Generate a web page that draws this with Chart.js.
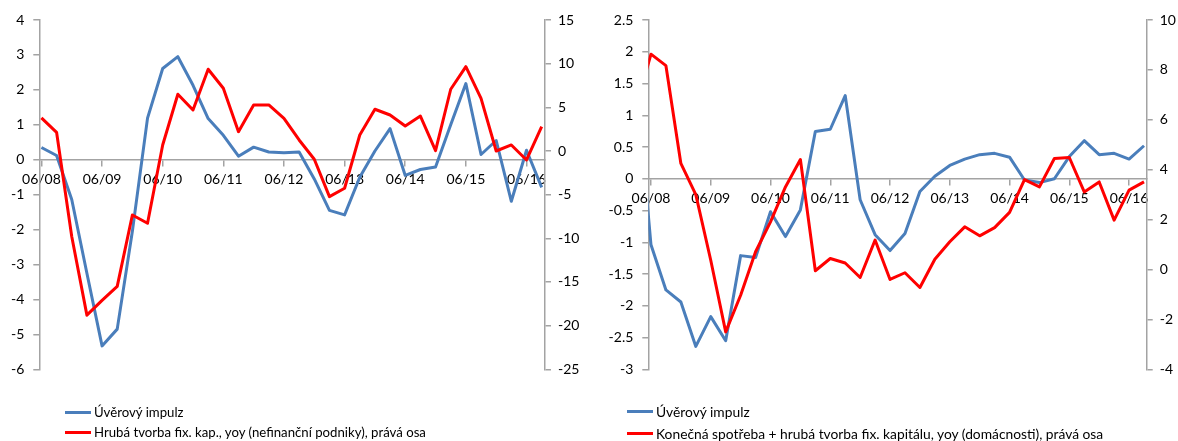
<!DOCTYPE html>
<html lang="cs">
<head>
<meta charset="utf-8">
<title>Úvěrový impulz</title>
<script src="https://cdn.jsdelivr.net/npm/chart.js@4/dist/chart.umd.min.js"></script>
<style>
  html, body { margin: 0; padding: 0; background: #fff; }
  body { width: 1178px; height: 441px; position: relative; overflow: hidden; font-family: Lato, "Open Sans", sans-serif; }
  .panel { position: absolute; top: 0; width: 589px; height: 441px; }
  .panel canvas { position: absolute; left: 0; top: 0; }
  .key { position: absolute; height: 20px; display: flex; align-items: center; white-space: nowrap; font-size: 13.2px; color: #000; }
  .key.wide { font-size: 13.8px; }
  .key i { display: inline-block; width: 26px; height: 3px; margin-right: 3px; }
</style>
</head>
<body>
<div class="panel" style="left:0"><canvas id="firms" width="589" height="441"></canvas></div>
<div class="panel" style="left:589px"><canvas id="households" width="589" height="441"></canvas></div>

<div class="key" style="left:65px; top:402px"><i style="background:#4a7ebb"></i><span>Úvěrový impulz</span></div>
<div class="key" style="left:65px; top:422px"><i style="background:#ff0000"></i><span>Hrubá tvorba fix. kap., yoy (nefinanční podniky), prává osa</span></div>
<div class="key wide" style="left:627px; top:401px"><i style="background:#4a7ebb"></i><span>Úvěrový impulz</span></div>
<div class="key wide" style="left:627px; top:423px"><i style="background:#ff0000"></i><span>Konečná spotřeba + hrubá tvorba fix. kapitálu, yoy (domácnosti), prává osa</span></div>

<script>
// Quarter-end labels (MM/YY)
const quarters = [
  '06/08', '09/08', '12/08', '03/09', '06/09', '09/09', '12/09', '03/10',
  '06/10', '09/10', '12/10', '03/11', '06/11', '09/11', '12/11', '03/12',
  '06/12', '09/12', '12/12', '03/13', '06/13', '09/13', '12/13', '03/14',
  '06/14', '09/14', '12/14', '03/15', '06/15', '09/15', '12/15', '03/16',
  '06/16', '09/16'
];

// Non-financial corporations
const firmsCreditImpulse = [
  0.35, 0.12, -1.14, -3.25, -5.33, -4.85, -2.05, 1.19,
  2.61, 2.95, 2.13, 1.18, 0.70, 0.10, 0.36, 0.22,
  0.20, 0.22, -0.55, -1.45, -1.58, -0.50, 0.25, 0.89,
  -0.45, -0.28, -0.21, 1.00, 2.18, 0.15, 0.55, -1.19,
  0.27, -0.79
];
const firmsGfcfYoy = [
  3.8, 2.14, -9.8, -18.8, -17.1, -15.5, -7.33, -8.28,
  0.69, 6.5, 4.7, 9.36, 7.18, 2.21, 5.27, 5.27,
  3.74, 1.26, -0.95, -5.23, -4.27, 1.83, 4.78, 4.12,
  2.86, 4.0, 0.03, 7.07, 9.66, 6.03, 0.0, 0.69,
  -1.03, 2.78
];

// Households (series start one quarter earlier, cut by the axis)
const hhQuarters = ['03/08'].concat(quarters);
const hhCreditImpulse = [
  1.6,
  -1.04, -1.75, -1.94, -2.64, -2.17, -2.55, -1.21, -1.24,
  -0.52, -0.91, -0.49, 0.745, 0.78, 1.31, -0.33, -0.88,
  -1.13, -0.86, -0.20, 0.04, 0.21, 0.31, 0.38, 0.40,
  0.34, -0.02, -0.06, 0.0, 0.35, 0.60, 0.38, 0.40,
  0.31, 0.52
];
const hhSpendingYoy = [
  6.5,
  8.63, 8.17, 4.25, 3.0, 0.37, -2.5, -1.03, 0.71,
  1.91, 3.31, 4.41, -0.05, 0.44, 0.26, -0.32, 1.18,
  -0.4, -0.13, -0.72, 0.41, 1.11, 1.71, 1.35, 1.68,
  2.29, 3.6, 3.31, 4.45, 4.49, 3.11, 3.51, 1.98,
  3.18, 3.51
];

const AXIS_GREY = '#a3a3a3';
const BLUE = '#4a7ebb';
const RED = '#ff0000';

Chart.defaults.font.family = 'Lato, "Open Sans", sans-serif';
Chart.defaults.font.size = 14;
Chart.defaults.color = '#000';

const toPoints = values => values.map((v, i) => ({ x: i, y: v }));
const plain = v => String(v);

function lineSet(label, values, color, axis, order) {
  return {
    label, data: toPoints(values), yAxisID: axis,
    borderColor: color, backgroundColor: color, borderWidth: 3,
    borderJoinStyle: 'round', tension: 0, pointRadius: 0, pointHoverRadius: 0,
    order, clip: 0
  };
}

function yAxis(position, min, max, step, width, pad) {
  return {
    type: 'linear', position, min, max,
    ticks: { stepSize: step, padding: pad, callback: plain },
    grid: { drawOnChartArea: false, drawTicks: true, tickLength: 6, color: AXIS_GREY, lineWidth: 1.5 },
    border: { display: true, color: AXIS_GREY, width: 1.5 },
    afterFit(scale) { scale.width = width; }
  };
}

function xAxis(labels, min, max) {
  return {
    type: 'linear', position: { y: 0 }, min, max,
    afterBuildTicks(scale) {
      scale.ticks = labels.map((q, i) => ({ value: i }))
        .filter(t => labels[t.value].startsWith('06/') && t.value >= min && t.value <= max);
    },
    ticks: { padding: 5, maxRotation: 0, autoSkip: false, callback: v => labels[v] },
    grid: { drawOnChartArea: false, drawTicks: true, tickLength: 6, color: AXIS_GREY, lineWidth: 1.5 },
    border: { display: true, color: AXIS_GREY, width: 1.5 }
  };
}

function build(id, cfg) {
  return new Chart(document.getElementById(id), {
    type: 'line',
    data: { datasets: cfg.datasets },
    options: {
      responsive: false, maintainAspectRatio: false, animation: false,
      devicePixelRatio: 1,
      layout: { padding: { top: 20, bottom: 71.7, left: 0, right: 0 } },
      plugins: { legend: { display: false }, tooltip: { enabled: false } },
      scales: cfg.scales
    }
  });
}

build('firms', {
  datasets: [
    lineSet('Úvěrový impulz', firmsCreditImpulse, BLUE, 'y', 2),
    lineSet('Hrubá tvorba fix. kap., yoy (nefinanční podniky), prává osa', firmsGfcfYoy, RED, 'y1', 1)
  ],
  scales: {
    x: xAxis(quarters, -0.14, 33.22),
    y: yAxis('left', -6, 4, 1, 39.3, 9),
    y1: yAxis('right', -25, 15, 5, 44, 7)
  }
});

build('households', {
  datasets: [
    lineSet('Úvěrový impulz', hhCreditImpulse, BLUE, 'y', 2),
    lineSet('Konečná spotřeba + hrubá tvorba fix. kapitálu, yoy (domácnosti), prává osa', hhSpendingYoy, RED, 'y1', 1)
  ],
  scales: {
    x: xAxis(hhQuarters, 0.82, 34.18),
    y: yAxis('left', -3, 2.5, 0.5, 59.3, 9),
    y1: yAxis('right', -4, 10, 2, 31.3, 7)
  }
});
</script>
</body>
</html>
